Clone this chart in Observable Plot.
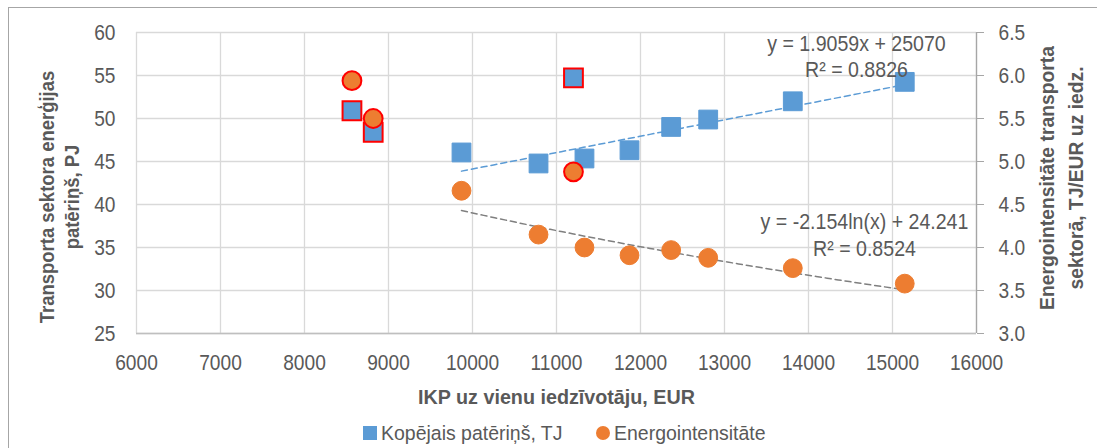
<!DOCTYPE html>
<html>
<head>
<meta charset="utf-8">
<script src="https://cdn.jsdelivr.net/npm/d3@7"></script>
<script src="https://cdn.jsdelivr.net/npm/@observablehq/plot@0.6"></script>
<style>
  html, body { margin: 0; padding: 0; background: #fff; }
  #wrap { position: relative; width: 1099px; height: 448px; overflow: hidden; font-family: "Liberation Sans", Arial, sans-serif; }
  #frame { position: absolute; left: 8px; top: 7px; width: 1089px; height: 500px; border-left: 1.5px solid #a6a6a6; border-top: 1.5px solid #a6a6a6; box-sizing: border-box; }
  #legend { position: absolute; top: 420px; left: 0; width: 1099px; height: 26px; font-size: 20.5px; color: #595959; }
  #legend .item { position: absolute; top: 0; display: flex; align-items: center; height: 26px; white-space: nowrap; }
  #legend .lbl { display: inline-block; transform: scaleX(0.95); transform-origin: left center; }
  #legend .sw { display: inline-block; width: 14px; height: 14px; margin-right: 4px; }
</style>
</head>
<body>
<div id="wrap">
  <div id="frame"></div>
  <div id="chart"></div>
  <div id="legend">
    <div class="item" style="left:363px"><span class="sw" style="background:#5B9BD5"></span><span class="lbl">Kopējais patēriņš, TJ</span></div>
    <div class="item" style="left:596px"><span class="sw" style="background:#ED7D31;border-radius:50%"></span><span class="lbl">Energointensitāte</span></div>
  </div>
</div>
<script>
// GDP per capita, EUR (x)
const gdp = [8565, 8818, 9869, 10786, 11202, 11333, 11869, 12365, 12806, 13813, 15146];
// Total transport energy consumption, PJ (left axis)
const consumption = [50.9, 48.4, 46.05, 44.77, 54.72, 45.35, 46.31, 49.02, 49.88, 52.0, 54.26];
// Energy intensity, TJ/EUR per capita (right axis)
const intensity = [5.94, 5.50, 4.66, 4.15, 4.88, 4.00, 3.91, 3.97, 3.88, 3.76, 3.58];
// Points outlined red (excluded from trend)
const excluded = [true, true, false, false, true, false, false, false, false, false, false];

const xTicks = [6000, 7000, 8000, 9000, 10000, 11000, 12000, 13000, 14000, 15000, 16000];
const leftTicks = [25, 30, 35, 40, 45, 50, 55, 60];
const rightTicks = [3.0, 3.5, 4.0, 4.5, 5.0, 5.5, 6.0, 6.5];

// Trendline equations as printed on the chart
const linCoef = [1.9059, 25070];      // y(TJ) = a*x + b
const logCoef = [-2.154, 24.241];     // y = a*ln(x) + b
const trendRange = [9869, 15146];
const linLabel = "y = 1.9059x + 25070\nR² = 0.8826";
const logLabel = "y = -2.154ln(x) + 24.241\nR² = 0.8524";
const xTitle = "IKP uz vienu iedzīvotāju, EUR";
const yLeftTitle = "Transporta sektora enerģijas\npatēriņš, PJ";
const yRightTitle = "Energointensitāte transporta\nsektorā, TJ/EUR uz iedz.";

// map right axis (3.0–6.5) onto left axis (25–60)
const toLeft = v => 25 + (v - 3) * 10;

const rows = gdp.map((x, i) => ({x, c: consumption[i], e: toLeft(intensity[i]), ex: excluded[i]}));

const steps = 40;
const trendX = d3.range(steps + 1).map(i => trendRange[0] + (trendRange[1] - trendRange[0]) * i / steps);
const linTrend = trendX.map(x => ({x, y: (linCoef[0] * x + linCoef[1]) / 1000}));
const logTrend = trendX.map(x => ({x, y: toLeft(logCoef[0] * Math.log(x) + logCoef[1])}));

const blue = "#5B9BD5", orange = "#ED7D31", red = "#FF0000";
const txt = "#595959";

const chart = Plot.plot({
  width: 1099,
  height: 420,
  marginLeft: 136,
  marginRight: 123,
  marginTop: 32,
  marginBottom: 87,
  style: {fontSize: "20px", fontFamily: '"Liberation Sans", Arial, sans-serif', color: txt, background: "transparent"},
  x: {domain: [6000, 16000]},
  y: {domain: [25, 60]},
  marks: [
    Plot.gridX(xTicks, {stroke: "#d9d9d9", strokeOpacity: 1, strokeWidth: 1.3}),
    Plot.gridY(leftTicks, {stroke: "#d9d9d9", strokeOpacity: 1, strokeWidth: 1.3}),
    Plot.ruleY([25], {stroke: "#bfbfbf", strokeWidth: 1.3}),
    Plot.ruleX([16000], {stroke: "#a6a6a6", strokeWidth: 1.3}),
    Plot.axisX({ticks: xTicks, tickSize: 0, tickPadding: 21, tickFormat: d => String(d), label: null, fill: txt, fontSize: 22}),
    Plot.axisY({ticks: leftTicks, tickSize: 0, tickPadding: 21, label: null, fill: txt, fontSize: 22}),
    Plot.axisY({anchor: "right", ticks: rightTicks.map(toLeft), tickSize: 7, tickPadding: 15, tickFormat: (d, i) => rightTicks[i].toFixed(1), label: null, stroke: "#a6a6a6", fill: txt, fontSize: 22}),
    Plot.text([xTitle], {frameAnchor: "bottom", dy: 64, lineAnchor: "middle", fontWeight: "bold", fill: txt, fontSize: 21}),
    Plot.text([yLeftTitle], {frameAnchor: "left", rotate: -90, dx: -78, dy: 14, fontWeight: "bold", fill: txt, fontSize: 21, lineHeight: 1.17, lineAnchor: "middle", textAnchor: "middle"}),
    Plot.text([yRightTitle], {frameAnchor: "right", rotate: -90, dx: 83, dy: -5, fontWeight: "bold", fill: txt, fontSize: 21, lineHeight: 1.35, lineAnchor: "middle", textAnchor: "middle"}),
    Plot.line(linTrend, {x: "x", y: "y", stroke: blue, strokeWidth: 1.5, strokeDasharray: "6,4"}),
    Plot.line(logTrend, {x: "x", y: "y", stroke: "#7f7f7f", strokeWidth: 1.5, strokeDasharray: "6,4"}),
    Plot.dot(rows, {x: "x", y: "c", symbol: "square", r: 10.6, fill: blue, stroke: d => d.ex ? red : blue, strokeWidth: d => d.ex ? 2 : 1}),
    Plot.dot(rows, {x: "x", y: "e", symbol: "circle", r: 9.4, fill: orange, stroke: d => d.ex ? red : orange, strokeWidth: d => d.ex ? 2 : 1}),
    Plot.text([linLabel], {frameAnchor: "top-right", dx: -120, dy: 23.5, fill: txt, fontSize: 22, lineHeight: 1.15, lineAnchor: "middle", textAnchor: "middle"}),
    Plot.text([logLabel], {frameAnchor: "top-right", dx: -112, dy: 201, fill: txt, fontSize: 22, lineHeight: 1.25, lineAnchor: "middle", textAnchor: "middle"})
  ]
});

// horizontally condense text (the original uses a narrow typeface)
function condenseText(t, s) {
  const x = parseFloat(t.getAttribute("x")) || 0;
  const tr = t.getAttribute("transform") || "";
  t.setAttribute("transform", `${tr} translate(${x},0) scale(${s},1) translate(${-x},0)`);
}
chart.querySelectorAll('[aria-label="x-axis tick label"] text, [aria-label="y-axis tick label"] text')
  .forEach(t => condenseText(t, 0.87));
chart.querySelectorAll('[aria-label="text"] text').forEach(t => {
  const s = t.textContent;
  if (s.startsWith("IKP")) condenseText(t, 0.94);
  else if (s.includes("Transporta")) condenseText(t, 0.88);
  else if (s.includes("Energointensit")) condenseText(t, 0.92);
  else condenseText(t, 0.89);
});

chart.style.position = "absolute";
chart.style.left = "0";
chart.style.top = "0";
document.getElementById("chart").appendChild(chart);
</script>
</body>
</html>
